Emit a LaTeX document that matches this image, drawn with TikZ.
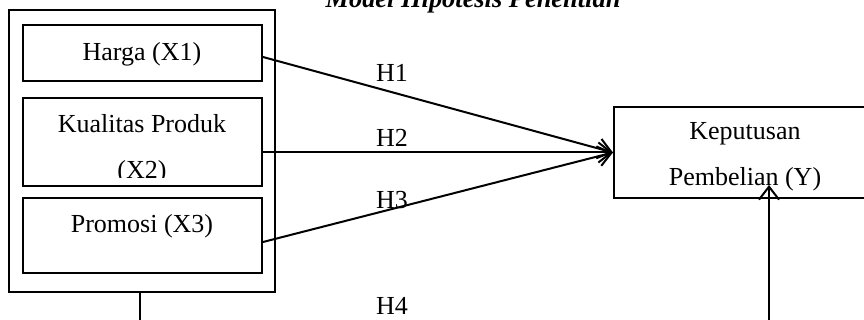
\documentclass[tikz,border=0pt]{standalone}
\usepackage{fontspec}
\setmainfont{Liberation Serif}
\usetikzlibrary{arrows.meta}

\tikzset{
  varbox/.style={draw,line width=1pt,inner sep=0pt},
  vartext/.style={font=\fontsize{13}{23}\selectfont,align=center,inner sep=0pt},
  hlink/.style={line width=1pt,-{Straight Barb[length=6.5pt,width=10pt]}},
  hlabel/.style={font=\fontsize{13}{15}\selectfont,inner sep=0pt}
}

\begin{document}
\begin{tikzpicture}[x=0.5pt,y=-0.5pt]
    \useasboundingbox (0,0) rectangle (864,320);
    % title, cut at the top
    \node[anchor=base,font=\fontsize{13.2}{15}\selectfont\bfseries\itshape] (title) at (473,8) {Model Hipotesis Penelitian};
    % independent variables
    \node[varbox,minimum width=133pt,minimum height=141pt] (grp) at (142,151) {};
    \node[varbox,minimum width=119.5pt,minimum height=28pt] (x1) at (142.5,53) {};
    \node[varbox,minimum width=119.5pt,minimum height=44pt] (x2) at (142.5,142) {};
    \node[varbox,minimum width=119.5pt,minimum height=37.5pt] (x3) at (142.5,235.5) {};
    \node[vartext] (x1txt) at (142,54) {Harga (X1)};
    \begin{scope}
      \clip (23,98) rectangle (262,178);
      \node[vartext] (x2txt) at (142,149) {Kualitas Produk\\(X2)};
    \end{scope}
    \node[vartext] (x3txt) at (142,226) {Promosi (X3)};
    % dependent variable
    \node[varbox,minimum width=131pt,minimum height=45.5pt] (y) at (745,152.5) {};
    \node[vartext] (ytxt) at (745,157) {Keputusan\\Pembelian (Y)};
    % hypotheses
    \coordinate (yin) at (y.west);
    \draw[hlink] (x1.east |- 0,57) -- (yin);
    \draw[hlink] (x2.east |- yin) -- (yin);
    \draw[hlink] (x3.east |- 0,242) -- (yin);
    \coordinate (h4a) at (140,345);
    \coordinate (h4b) at (769,345);
    \draw[hlink,shorten >=-7pt] (grp.south -| h4a) -- (h4a) -- (h4b) -- (h4b |- y.south);
    \node[hlabel] (h1) at (392,73) {H1};
    \node[hlabel] (h2) at (392,138) {H2};
    \node[hlabel] (h3) at (392,200) {H3};
    \node[hlabel] (h4) at (392,306) {H4};
\end{tikzpicture}
\end{document}
